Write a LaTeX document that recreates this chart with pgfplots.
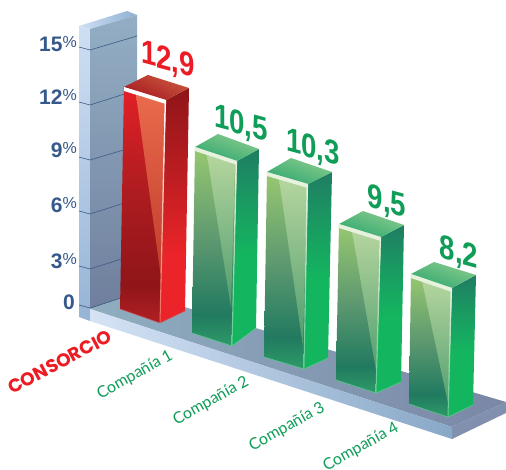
\documentclass[border=0pt]{standalone}
\usepackage{fontspec}
\usepackage{pgfplots}
\pgfplotsset{compat=1.18}
\setmainfont{Liberation Sans}
\newfontfamily\gill{Lato}
\newfontfamily\pop{Poppins}
\definecolor{navy}{HTML}{36598C}
\definecolor{lblred}{HTML}{ED1C24}
\definecolor{lblgreen}{HTML}{0F9D58}
\definecolor{gridc}{HTML}{3D5A85}
\definecolor{CFDFF3w}{HTML}{CFDFF3}\definecolor{8FB0D3w}{HTML}{8FB0D3}\definecolor{96B4D6w}{HTML}{96B4D6}
\definecolor{93AEC4w}{HTML}{93AEC4}\definecolor{6F7F9Dw}{HTML}{6F7F9D}\definecolor{8FAEC0w}{HTML}{8FAEC0}
\definecolor{7A87A6w}{HTML}{7A87A6}\definecolor{D5E3F5w}{HTML}{D5E3F5}\definecolor{88A8C8w}{HTML}{88A8C8}
\definecolor{8090AEw}{HTML}{8090AE}
\definecolor{r1}{HTML}{B02025}\definecolor{r2}{HTML}{901518}\definecolor{r3}{HTML}{AC1C20}\definecolor{r4}{HTML}{E22027}
\definecolor{r5}{HTML}{EA2428}\definecolor{r6}{HTML}{C01E22}\definecolor{r7}{HTML}{8F1518}
\definecolor{g1}{HTML}{2E9A68}\definecolor{g2}{HTML}{217A60}\definecolor{g3}{HTML}{5E9970}\definecolor{g4}{HTML}{98C870}
\definecolor{g5}{HTML}{14B55F}\definecolor{g6}{HTML}{1A9A62}\definecolor{g7}{HTML}{1F7D62}
\pgfdeclareverticalshading{redfrontS}{100bp}{color(0bp)=(r1);color(25bp)=(r1);color(33bp)=(r2);color(52bp)=(r3);color(75bp)=(r4);color(100bp)=(r4)}
\pgfdeclareverticalshading{redrightS}{100bp}{color(0bp)=(r5);color(40bp)=(r5);color(55bp)=(r6);color(75bp)=(r7);color(100bp)=(r7)}
\pgfdeclareverticalshading{greenfrontS}{100bp}{color(0bp)=(g1);color(25bp)=(g1);color(33bp)=(g2);color(52bp)=(g3);color(75bp)=(g4);color(100bp)=(g4)}
\pgfdeclareverticalshading{greenrightS}{100bp}{color(0bp)=(g5);color(48bp)=(g5);color(62bp)=(g6);color(75bp)=(g7);color(100bp)=(g7)}
\definecolor{E96A4Cc}{HTML}{E96A4C}\definecolor{C9583Ec}{HTML}{C9583E}\definecolor{A81820c}{HTML}{A81820}
\definecolor{lightg}{HTML}{B5D59E}\definecolor{lightgb}{HTML}{4E9C6E}
\definecolor{capa}{HTML}{8ACB8C}\definecolor{capb}{HTML}{2FA870}
\definecolor{stripg}{HTML}{E6F2DE}\definecolor{edgeg}{HTML}{5CC88E}\definecolor{redge}{HTML}{F26A5A}
\definecolor{redtri}{HTML}{BE3A2A}
\tikzset{
 rF/.style={draw=none,shade,shading=redfrontS},
 rR/.style={draw=none,shade,shading=redrightS},
 rC/.style={draw=none,left color=C9583Ec,right color=A81820c,shading angle=-25},
 gF/.style={draw=none,shade,shading=greenfrontS},
 gR/.style={draw=none,shade,shading=greenrightS},
 gT/.style={draw=none,top color=lightg,bottom color=lightgb},
 gC/.style={draw=none,left color=capa,right color=capb,shading angle=-20},
 gS/.style={draw=none,fill=stripg},
 rS/.style={draw=none,fill=white},
 gE/.style={draw=none,top color=stripg,bottom color=edgeg},
 rE/.style={draw=none,top color=white,bottom color=redge},
 gB/.style={draw=edgeg,line width=0.6pt},
 rB/.style={draw=r1!70!white,line width=0.5pt},
 val/.style={font=\fontsize{30}{30}\selectfont\bfseries,yslant=-0.27,xscale=0.92,yscale=1.12,transform shape,inner sep=0pt},
 cmp/.style={font=\fontsize{16}{16}\selectfont\gill,text=lblgreen,rotate=29,inner sep=0pt},
 tk/.style={font=\fontsize{21}{21}\selectfont\bfseries,text=navy,anchor=base east,inner sep=0pt},
 grd/.style={draw=gridc,line width=0.6pt},
}
\newcommand\pct{\fontsize{16}{16}\selectfont\mdseries\raisebox{4pt}{\%}}
\begin{document}
\begin{tikzpicture}
\begin{axis}[
 scale only axis, width=506pt, height=470pt,
 xmin=0, xmax=506, ymin=0, ymax=470, y dir=reverse,
 hide axis, clip=true,
]
% canvas
\addplot[draw=none,fill=white] coordinates {(0,0)(506,0)(506,470)(0,470)} -- cycle;
% wall
\addplot[draw=none,left color=CFDFF3w,right color=8FB0D3w] coordinates {(79,26)(127,11)(137,15)(90,29)} -- cycle;
\addplot[draw=none,top color=CFDFF3w,bottom color=96B4D6w] coordinates {(79,26)(90,29)(90,321)(79,317)} -- cycle;
\addplot[draw=none,top color=93AEC4w,bottom color=6F7F9Dw] coordinates {(90,29)(137,15)(137,293)(90,309)} -- cycle;
% floor
\addplot[draw=none,left color=8FAEC0w,right color=7A87A6w] coordinates {(90,309)(137,293)(506,402)(452,427)} -- cycle;
\addplot[draw=none,left color=D5E3F5w,right color=88A8C8w] coordinates {(90,309)(452,427)(452,439)(90,321)} -- cycle;
\addplot[draw=none,fill=8090AEw] coordinates {(452,427)(506,402)(506,413)(452,439)} -- cycle;
% gridlines
\addplot[grd] coordinates {(79,47)(90,50)(137,36)};
\addplot[grd] coordinates {(79,102)(90,105)(137,90)};
\addplot[grd] coordinates {(79,157)(90,160)(137,146)};
\addplot[grd] coordinates {(79,211)(90,214)(137,199)};
\addplot[grd] coordinates {(79,266)(90,269)(137,254)};
\addplot[grd] coordinates {(79,305)(90,308)(137,293)};
% bar CONSORCIO 12.9
\addplot[rF] coordinates {(124,87)(166,100)(160,323)(120,309)} -- cycle;
\addplot[rR] coordinates {(166,100)(189,88)(185,311)(160,323)} -- cycle;
\addplot[draw=none,top color=E96A4Cc,bottom color=redtri] coordinates {(136,95)(164,103)(162,285)} -- cycle;
\addplot[rC] coordinates {(124,87)(148,75)(189,88)(166,100)} -- cycle;
\addplot[rS] coordinates {(124,87)(166,100)(166,104)(124,91)} -- cycle;
\addplot[rE] coordinates {(164.5,102)(166,102)(160.5,323)(159.5,323)} -- cycle;
\addplot[rB] coordinates {(120,309)(160,323)(185,311)};
% bar 1  10.5
\addplot[gF] coordinates {(195,147)(237,161)(232,346)(192,333)} -- cycle;
\addplot[gR] coordinates {(237,161)(259,149)(256,328)(232,346)} -- cycle;
\addplot[gT] coordinates {(207,155)(235,164)(231,308)} -- cycle;
\addplot[gC] coordinates {(195,147)(218,134)(259,149)(237,161)} -- cycle;
\addplot[gS] coordinates {(195,147)(237,161)(237,165)(195,151)} -- cycle;
\addplot[gE] coordinates {(235.5,163)(237,163)(232.5,346)(231.5,346)} -- cycle;
\addplot[gB] coordinates {(192,333)(232,346)(256,328)};
% bar 2  10.3
\addplot[gF] coordinates {(267,172)(308,184)(304,369)(264,357)} -- cycle;
\addplot[gR] coordinates {(308,184)(332,172)(328,358)(304,369)} -- cycle;
\addplot[gT] coordinates {(279,179)(307,187)(303,347)} -- cycle;
\addplot[gC] coordinates {(267,172)(291,158)(332,172)(308,184)} -- cycle;
\addplot[gS] coordinates {(267,172)(308,184)(308,188)(267,176)} -- cycle;
\addplot[gE] coordinates {(306.5,186)(308,186)(304.5,369)(303.5,369)} -- cycle;
\addplot[gB] coordinates {(264,357)(304,369)(328,358)};
% bar 3  9.5
\addplot[gF] coordinates {(339,224)(381,237)(376,393)(336,380)} -- cycle;
\addplot[gR] coordinates {(381,237)(404,225)(401,382)(376,393)} -- cycle;
\addplot[gT] coordinates {(352,231)(379,240)(377,376)} -- cycle;
\addplot[gC] coordinates {(339,224)(363,211)(404,225)(381,237)} -- cycle;
\addplot[gS] coordinates {(339,224)(381,237)(381,241)(339,228)} -- cycle;
\addplot[gE] coordinates {(379.5,239)(381,239)(376.5,393)(375.5,393)} -- cycle;
\addplot[gB] coordinates {(336,380)(376,393)(401,382)};
% bar 4  8.2
\addplot[gF] coordinates {(411,274)(452,288)(448,417)(409,404)} -- cycle;
\addplot[gR] coordinates {(452,288)(476,275)(473,405)(448,417)} -- cycle;
\addplot[gT] coordinates {(422,281)(451,291)(449,408)} -- cycle;
\addplot[gC] coordinates {(411,274)(434,262)(476,275)(452,288)} -- cycle;
\addplot[gS] coordinates {(411,274)(452,288)(452,292)(411,278)} -- cycle;
\addplot[gE] coordinates {(450.5,290)(452,290)(448.5,417)(447.5,417)} -- cycle;
\addplot[gB] coordinates {(409,404)(448,417)(473,405)};
% value labels
\node[val,text=lblred] at (axis cs:168,61) {12,9};
\node[val,text=lblgreen] at (axis cs:241,125) {10,5};
\node[val,text=lblgreen] at (axis cs:313,149) {10,3};
\node[val,text=lblgreen] at (axis cs:387,203) {9,5};
\node[val,text=lblgreen] at (axis cs:459,254) {8,2};
% y tick labels
\node[tk] at (axis cs:77,52) {15\pct};
\node[tk] at (axis cs:77,105) {12\pct};
\node[tk] at (axis cs:77,158) {9\pct};
\node[tk] at (axis cs:77,213) {6\pct};
\node[tk] at (axis cs:77,269) {3\pct};
\node[tk] at (axis cs:75,310) {0};
% categories
\node[font=\fontsize{18.5}{19}\selectfont\pop\bfseries,text=lblred,rotate=28,inner sep=0pt] at (axis cs:60,362) {CONSORCIO};
\node[cmp] at (axis cs:135,375) {Compañía 1};
\node[cmp] at (axis cs:211,401) {Compañía 2};
\node[cmp] at (axis cs:287,427) {Compañía 3};
\node[cmp] at (axis cs:361,447) {Compañía 4};
\end{axis}
\end{tikzpicture}
\end{document}
